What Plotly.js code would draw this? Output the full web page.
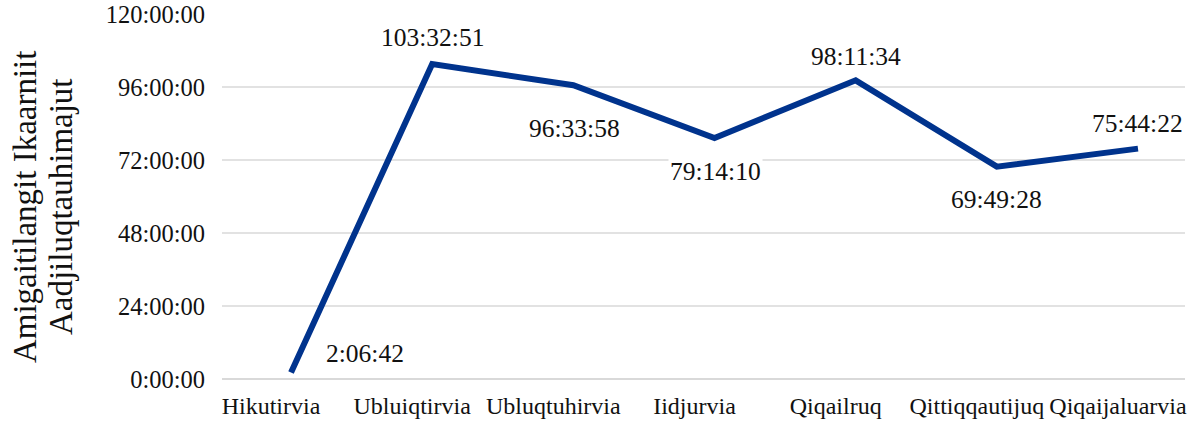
<!DOCTYPE html>
<html>
<head>
<meta charset="utf-8">
<script src="https://cdn.plot.ly/plotly-3.0.1.min.js"></script>
<style>html,body{margin:0;padding:0;background:#fff;}#chart{width:1201px;height:426px;}</style>
</head>
<body>
<div id="chart"></div>
<script>
var categories = ["Hikutirvia", "Ubluiqtirvia", "Ubluqtuhirvia", "Iidjurvia", "Qiqailruq", "Qittiqqautijuq", "Qiqaijaluarvia"];
var durations = ["2:06:42", "103:32:51", "96:33:58", "79:14:10", "98:11:34", "69:49:28", "75:44:22"];
var tickValsHours = [0, 24, 48, 72, 96, 120];
var tickLabels = ["0:00:00", "24:00:00", "48:00:00", "72:00:00", "96:00:00", "120:00:00"];
var yTitleLines = ["Amigaitilangit Ikaarniit", "Aadjiluqtauhimajut"];

function toHours(s) {
  var p = s.split(":").map(Number);
  return p[0] + p[1] / 60 + p[2] / 3600;
}
var hours = durations.map(toHours);

var FONT = "Liberation Serif";

// label placement (pixel shifts relative to each point)
var labelShifts = [[74, 19], [0, 27], [1, -43], [1, -34], [0, 24], [0, -33], [0, 25]];

var annotations = categories.map(function (c, i) {
  return {
    x: c, y: hours[i], xref: "x", yref: "y",
    text: durations[i], showarrow: false,
    xshift: labelShifts[i][0], yshift: labelShifts[i][1],
    bgcolor: "#ffffff", borderpad: 1,
    font: {family: FONT, size: 25.5, color: "#111111"}
  };
});

// y-axis title, two lines drawn as rotated text
var titleX = [-197, -161];
yTitleLines.forEach(function (t, i) {
  annotations.push({
    xref: "paper", yref: "paper", x: 0, y: 0.471,
    xanchor: "center", yanchor: "middle", xshift: titleX[i],
    text: t, textangle: -90, showarrow: false,
    font: {family: FONT, size: 33, color: "#111111"}
  });
});

var trace = {
  x: categories, y: hours, type: "scatter", mode: "lines",
  line: {color: "#00338D", width: 6},
  hoverinfo: "skip"
};

var layout = {
  width: 1201, height: 426,
  margin: {l: 222, r: 16, t: 14, b: 47},
  paper_bgcolor: "#ffffff", plot_bgcolor: "#ffffff",
  showlegend: false,
  font: {family: FONT, size: 25, color: "#111111"},
  xaxis: {
    type: "category", range: [-0.489, 6.333],
    showgrid: false, showline: false, zeroline: false,
    ticks: "", tickfont: {family: FONT, size: 24},
    ticklabelshift: -20, ticklabelstandoff: 10
  },
  yaxis: {
    range: [0, 120], tickvals: tickValsHours, ticktext: tickLabels,
    showgrid: true, gridcolor: "#e2e2e2", gridwidth: 2,
    zeroline: true, zerolinecolor: "#d9d9d9", zerolinewidth: 2,
    showline: false, ticks: "", tickfont: {family: FONT, size: 24.5},
    ticklabelstandoff: 16
  },
  annotations: annotations
};

Plotly.newPlot("chart", [trace], layout, {staticPlot: true, displayModeBar: false});
</script>
</body>
</html>
